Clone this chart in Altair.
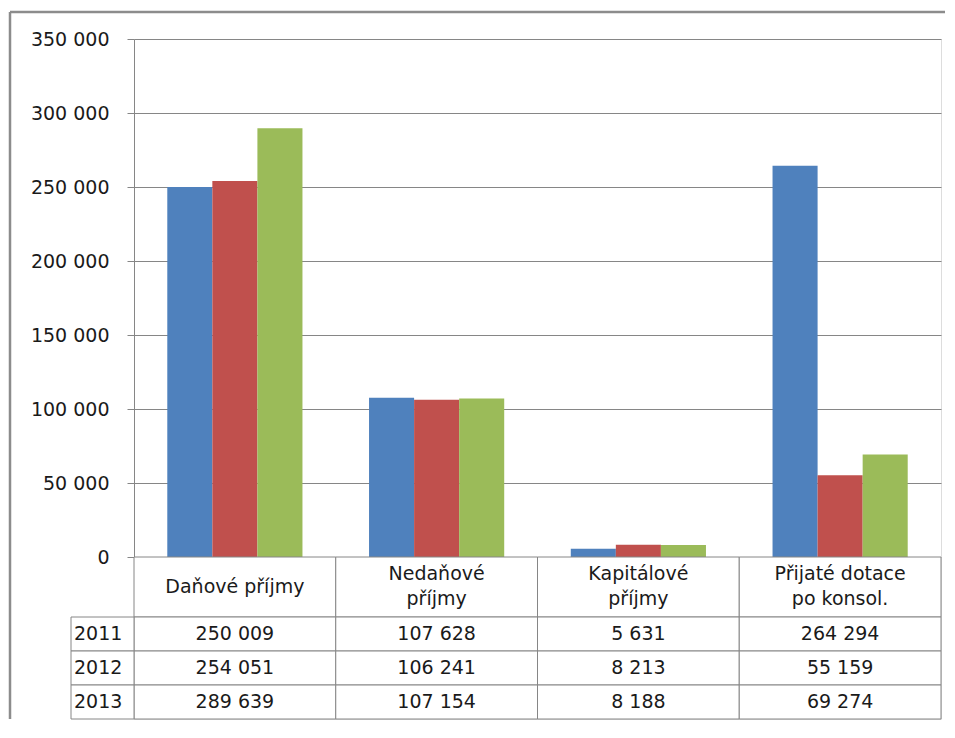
import altair as alt
import pandas as pd

# ---- data ----
categories = ["Daňové příjmy", "Nedaňové příjmy", "Kapitálové příjmy", "Přijaté dotace po konsol."]
header_line1 = ["Daňové příjmy", "Nedaňové", "Kapitálové", "Přijaté dotace"]
header_line2 = ["", "příjmy", "příjmy", "po konsol."]
years = ["2011", "2012", "2013"]
values_2011 = [250009, 107628, 5631, 264294]
values_2012 = [254051, 106241, 8213, 55159]
values_2013 = [289639, 107154, 8188, 69274]
y_ticks = [0, 50000, 100000, 150000, 200000, 250000, 300000, 350000]
colors = ["#4F81BD", "#C0504D", "#9BBB59"]

series = {"2011": values_2011, "2012": values_2012, "2013": values_2013}
rows = []
for y in years:
    for c, v in zip(categories, series[y]):
        rows.append({"category": c, "year": y, "value": v,
                     "text": f"{v:,}".replace(",", " ")})
df = pd.DataFrame(rows)
hdr_df = pd.DataFrame({"category": categories, "l1": header_line1, "l2": header_line2,
                       "row": ["h"] * 4})
yr_df = pd.DataFrame({"year": years})
one = pd.DataFrame({"k": [0]})

FONT = "DejaVu Sans"
FS = 19
TXT = "#1a1a1a"
GRAY = "#868686"
FRAME = "#8c8c8c"

W = 807
H = 518
HDR_H = 60
ROWS_H = 102

# ---- bar chart ----
bars = alt.Chart(df).mark_bar().encode(
    x=alt.X("category:N", sort=categories, axis=None,
            scale=alt.Scale(paddingInner=0.33, paddingOuter=0.165)),
    xOffset=alt.XOffset("year:N", sort=years,
                        scale=alt.Scale(paddingInner=0, paddingOuter=0)),
    y=alt.Y("value:Q", scale=alt.Scale(domain=[0, 350000], nice=False),
            axis=alt.Axis(values=y_ticks, title=None, grid=True, gridColor=GRAY,
                          gridWidth=1, domainColor=GRAY, tickColor=GRAY, tickSize=7,
                          labelPadding=18, labelFont=FONT, labelFontSize=FS,
                          labelColor=TXT,
                          labelExpr="datum.value == 0 ? '0' : format(datum.value / 1000, 'd') + ' 000'")),
    color=alt.Color("year:N", scale=alt.Scale(domain=years, range=colors), legend=None),
)

frame_top = alt.Chart(one).mark_rule(color=FRAME, strokeWidth=2.5).encode(
    x=alt.value(-124), x2=alt.value(811), y=alt.value(-27))
frame_left = alt.Chart(one).mark_rule(color=FRAME, strokeWidth=2.5).encode(
    x=alt.value(-124), y=alt.value(-27), y2=alt.value(H + HDR_H + ROWS_H))

top = alt.layer(bars, frame_top, frame_left).properties(width=W, height=H)

# ---- data table: header row ----
xs_tbl = alt.X("category:N", sort=categories, axis=None,
               scale=alt.Scale(paddingInner=0, paddingOuter=0))
ys_hdr = alt.Y("row:N", axis=None, scale=alt.Scale(paddingInner=0, paddingOuter=0))
hdr_cells = alt.Chart(hdr_df).mark_rect(fill="white", stroke=GRAY, strokeWidth=1).encode(
    x=xs_tbl, y=ys_hdr)
txt_kw = dict(font=FONT, fontSize=FS, color=TXT, baseline="middle", align="center")
hdr_single = alt.Chart(hdr_df).transform_filter("datum.l2 == ''").mark_text(**txt_kw).encode(
    x=xs_tbl, y=ys_hdr, text="l1:N")
hdr_first = alt.Chart(hdr_df).transform_filter("datum.l2 != ''").mark_text(dy=-13, **txt_kw).encode(
    x=xs_tbl, y=ys_hdr, text="l1:N")
hdr_second = alt.Chart(hdr_df).transform_filter("datum.l2 != ''").mark_text(dy=12, **txt_kw).encode(
    x=xs_tbl, y=ys_hdr, text="l2:N")
header = alt.layer(hdr_cells, hdr_single, hdr_first, hdr_second).properties(width=W, height=HDR_H)

# ---- data table: value rows ----
ys_tbl = alt.Y("year:N", sort=years, axis=None,
               scale=alt.Scale(paddingInner=0, paddingOuter=0))
cells = alt.Chart(df).mark_rect(fill="white", stroke=GRAY, strokeWidth=1).encode(
    x=xs_tbl, y=ys_tbl)
cell_text = alt.Chart(df).mark_text(**txt_kw).encode(
    x=xs_tbl, y=ys_tbl, text="text:N")
lab_cells = alt.Chart(yr_df).mark_rect(fill="white", stroke=GRAY, strokeWidth=1).encode(
    x=alt.value(-63), x2=alt.value(0), y=ys_tbl)
lab_text = alt.Chart(yr_df).mark_text(font=FONT, fontSize=FS, color=TXT,
                                      baseline="middle", align="left").encode(
    x=alt.value(-60), y=ys_tbl, text="year:N")
table = alt.layer(cells, cell_text, lab_cells, lab_text).properties(width=W, height=ROWS_H)

chart = alt.vconcat(top, header, table, spacing=0, bounds="flush").resolve_scale(
    x="independent", y="independent"
).properties(
    padding={"left": 0, "top": 2, "right": 0, "bottom": 0}
).configure_view(stroke=None).configure(font=FONT)

chart.save("out.html", embed_options={"renderer": "svg", "actions": False})
